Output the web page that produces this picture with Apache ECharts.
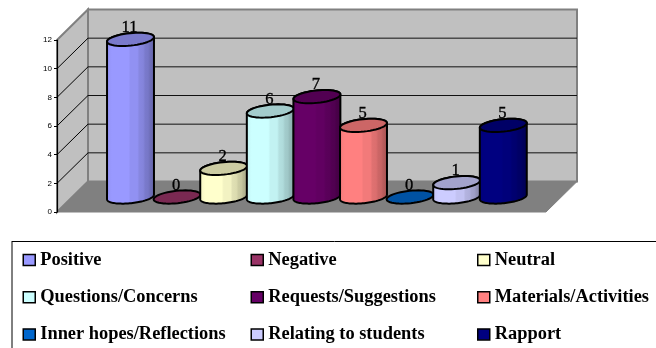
<!DOCTYPE html>
<html>
<head>
<meta charset="utf-8">
<style>html,body{margin:0;padding:0;background:#fff;overflow:hidden}#chart{width:656px;height:348px}</style>
<script src="https://cdn.jsdelivr.net/npm/echarts@6/dist/echarts.min.js"></script>
</head>
<body>
<div id="chart"></div>
<script>
// Response counts per category
const categories = ['Positive','Negative','Neutral','Questions/Concerns','Requests/Suggestions','Materials/Activities','Inner hopes/Reflections','Relating to students','Rapport'];
const counts = [11,0,2,6,7,5,0,1,5];
const yTicks = [0,2,4,6,8,10,12];
const palette = ['#9999FF','#993366','#FFFFCC','#CCFFFF','#660066','#FF8080','#0066CC','#CCCCFF','#000080'];

// Perspective offset of the back wall and cylinder proportions
const DEPTH_X = 31, DEPTH_Y = -30.5;
const RX = 23.6, RY = 6.2, TILT = -6 * Math.PI / 180;

const chart = echarts.init(document.getElementById('chart'), null, {renderer:'canvas'});

function scale(hex, k){
  const n = parseInt(hex.slice(1),16);
  const c = [n>>16&255, n>>8&255, n&255].map(v => Math.round(v*k));
  return 'rgb(' + c.join(',') + ')';
}
function ellipsePoint(cx, cy, t){
  const x = RX*Math.cos(t), y = RY*Math.sin(t);
  return [cx + x*Math.cos(TILT) - y*Math.sin(TILT), cy + x*Math.sin(TILT) + y*Math.cos(TILT)];
}
function arc(cx, cy, from, to){
  const pts = [];
  for (let i = 0; i <= 48; i++) pts.push(ellipsePoint(cx, cy, from + (to-from)*i/48));
  return pts;
}
function sideFill(base){
  const g = [[0,.95],[.12,1],[.46,1],[.5,.95],[.64,.95],[.68,.88],[.76,.86],[.8,.8],[.86,.78],[.9,.72],[1,.66]];
  return new echarts.graphic.LinearGradient(0,0,1,0, g.map(s => ({offset:s[0], color:scale(base,s[1])})));
}

// Back wall, side wall, floor and the gridlines running across them
function renderFrame(params, api){
  const v = api.value(0);
  const s = params.coordSys;
  const p = api.coord([0, v]);
  const y = p[1], x0 = s.x, x1 = s.x + s.width;
  const children = [];
  const edge = {stroke:'#808080', lineWidth:2};
  if (params.dataIndex === 0){
    const top = s.y, bot = s.y + s.height;
    children.push(
      {type:'polygon', shape:{points:[[x0+DEPTH_X,top+DEPTH_Y],[x1+DEPTH_X,top+DEPTH_Y],[x1+DEPTH_X,bot+DEPTH_Y],[x0+DEPTH_X,bot+DEPTH_Y]]}, style:Object.assign({fill:'#C0C0C0'},edge)},
      {type:'polygon', shape:{points:[[x0,top],[x0+DEPTH_X,top+DEPTH_Y],[x0+DEPTH_X,bot+DEPTH_Y],[x0,bot]]}, style:Object.assign({fill:'#C0C0C0'},edge)},
      {type:'polygon', shape:{points:[[x0,bot],[x0+DEPTH_X,bot+DEPTH_Y],[x1+DEPTH_X,bot+DEPTH_Y],[x1,bot]]}, style:{fill:'#808080', stroke:'#808080', lineWidth:1}}
    );
  } else if (v !== yTicks[yTicks.length-1]) {
    children.push(
      {type:'line', shape:{x1:x0,y1:y,x2:x0+DEPTH_X,y2:y+DEPTH_Y}, style:{stroke:'#000',lineWidth:1}},
      {type:'line', shape:{x1:x0+DEPTH_X,y1:y+DEPTH_Y,x2:x1+DEPTH_X,y2:y+DEPTH_Y}, style:{stroke:'#111',lineWidth:1}}
    );
  }
  return {type:'group', children};
}

// One cylinder with its cap and value label
function renderCylinder(params, api){
  const base = palette[params.seriesIndex - 1];
  const value = api.value(1);
  const top = api.coord([api.value(0), value]);
  const bottom = api.coord([api.value(0), 0]);
  const stroke = {stroke:'#000', lineWidth:2, lineJoin:'round'};
  const children = [];
  if (value > 0){
    const outline = arc(bottom[0], bottom[1], 0, Math.PI).concat(arc(top[0], top[1], Math.PI, 2*Math.PI));
    children.push({type:'polygon', shape:{points:outline}, style:Object.assign({fill:sideFill(base)}, stroke)});
  }
  children.push({type:'polygon', shape:{points:arc(top[0], top[1], 0, 2*Math.PI)}, style:Object.assign({fill:scale(base,.8)}, stroke)});
  children.push({type:'text', style:{text:String(value), x:top[0]-1, y:top[1]-11.5, align:'center', verticalAlign:'middle', fill:'#000', stroke:'#000', lineWidth:.35, font:'16.5px "Liberation Serif"'}});
  return {type:'group', children};
}

const barSeries = categories.map((name,i) => ({
  name, type:'custom', xAxisIndex:1, yAxisIndex:1, silent:true, z:3,
  itemStyle:{color:palette[i]},
  renderItem:renderCylinder,
  encode:{x:0,y:1},
  data:[[i, counts[i]]]
}));

const legendColumn = (names, left) => ({
  orient:'vertical', left, top:251, padding:0, itemGap:19.2, itemWidth:12, itemHeight:11,
  icon:'rect', selectedMode:false, data:names,
  itemStyle:{borderColor:'#000', borderWidth:1.5},
  textStyle:{fontFamily:'Liberation Serif', fontWeight:'bold', fontSize:18.4, color:'#000', lineHeight:16.5}
});

chart.setOption({
  animation:false,
  backgroundColor:'#fff',
  grid:[
    {left:57, top:40, width:489, height:172},
    {left:107.2, top:25, width:419.4, height:172}
  ],
  xAxis:[
    {type:'category', gridIndex:0, data:categories, show:false},
    {type:'category', gridIndex:1, data:categories, show:false}
  ],
  yAxis:[
    {type:'value', gridIndex:0, min:0, max:12, interval:2, z:4,
      axisLine:{show:true, lineStyle:{color:'#000',width:1.2}},
      axisTick:{show:true, length:3, lineStyle:{color:'#000',width:1}},
      axisLabel:{color:'#000', fontFamily:'Liberation Sans', fontSize:8, margin:5},
      splitLine:{show:false}},
    {type:'value', gridIndex:1, min:0, max:12, show:false, splitLine:{show:false}}
  ],
  legend:[
    legendColumn([categories[0],categories[3],categories[6]], 22.5),
    legendColumn([categories[1],categories[4],categories[7]], 250.5),
    legendColumn([categories[2],categories[5],categories[8]], 477)
  ],
  graphic:[
    {type:'line', silent:true, shape:{x1:0,y1:0,x2:660,y2:0}, x:12, y:241.5, style:{stroke:'#000',lineWidth:1}},
    {type:'line', silent:true, shape:{x1:0,y1:0,x2:0,y2:110}, x:12, y:241, style:{stroke:'#000',lineWidth:1}}
  ],
  series:[{
    name:'frame', type:'custom', xAxisIndex:0, yAxisIndex:0, silent:true, z:1,
    renderItem:renderFrame,
    encode:{y:0},
    data:yTicks.map(t => [t])
  }].concat(barSeries)
});
</script>
</body>
</html>
